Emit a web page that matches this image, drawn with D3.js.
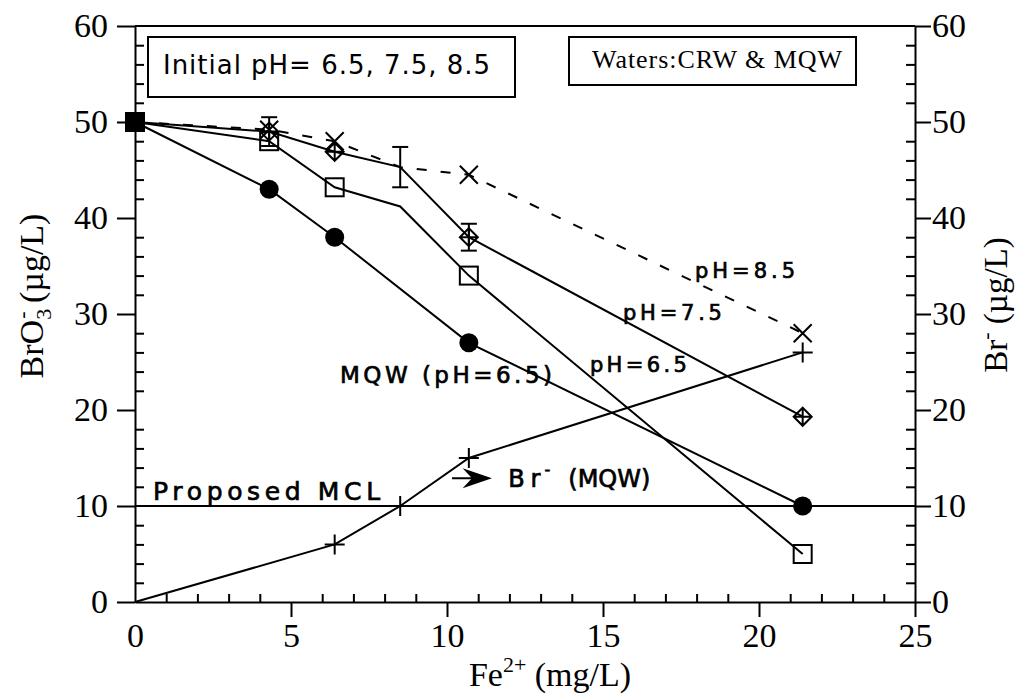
<!DOCTYPE html>
<html>
<head>
<meta charset="utf-8">
<script src="https://cdn.jsdelivr.net/npm/d3@7"></script>
<style>
body { margin: 0; background: #fff; }
svg { display: block; }
</style>
</head>
<body>
<script>
// Fe2+ doses (mg/L)
const fe = [0, 4.3, 6.4, 8.5, 10.7, 21.4];

// BrO3- (ug/L) per run, null = not measured
const mqw65 = [50, 43, 38, null, 27, 10];
const crw65 = [50, 48, 43.2, 41.2, 34, 5];
const crw75 = [50, 49, 46.9, 45.3, 38, 19.3];
const crw85 = [50, 49.2, 48, 45.3, 44.5, 28];
const err75 = [null, 1.5, null, 2.1, 1.4, null];

// Br- formed (ug/L), right axis
const brMqw = [0, null, 6, 10, 15, 26];

const mcl = 10;
const yTicks = [0, 10, 20, 30, 40, 50, 60];
const xTicks = [0, 5, 10, 15, 20, 25];

const width = 1019, height = 698;
const plot = {left: 135, right: 915, top: 26, bottom: 602};

const serif = '"Liberation Serif", "Times New Roman", serif';
const sans = '"DejaVu Sans", Verdana, sans-serif';

let svg = d3.select("body").append("svg")
    .attr("width", width)
    .attr("height", height);

let x = d3.scaleLinear().domain([0, 25]).range([plot.left, plot.right]);
let y = d3.scaleLinear().domain([0, 60]).range([plot.bottom, plot.top]);
let y2 = d3.scaleLinear().domain([0, 60]).range([plot.bottom, plot.top]);

function styleAxis(g) {
    g.attr("font-family", serif).attr("font-size", 34);
    g.selectAll("path, line").attr("stroke-width", 2);
}

////////// axes //////////
let minorY = d3.range(2, 60, 2).filter(v => v % 10 !== 0);
let minorX = d3.range(1, 25, 1).filter(v => v % 5 !== 0);

// left
svg.append("g")
    .attr("transform", `translate(${plot.left},0)`)
    .call(d3.axisLeft(y).tickValues(yTicks).tickSize(18).tickSizeOuter(0).tickPadding(9))
    .call(styleAxis);
svg.append("g")
    .attr("transform", `translate(${plot.left},0)`)
    .call(d3.axisLeft(y).tickValues(minorY).tickSize(-9).tickFormat(""))
    .call(g => g.select(".domain").remove())
    .call(styleAxis);

// right
svg.append("g")
    .attr("transform", `translate(${plot.right},0)`)
    .call(d3.axisRight(y2).tickValues(yTicks).tickSize(16).tickSizeOuter(0).tickPadding(1))
    .call(styleAxis);
svg.append("g")
    .attr("transform", `translate(${plot.right},0)`)
    .call(d3.axisRight(y2).tickValues(minorY).tickSize(-9).tickFormat(""))
    .call(g => g.select(".domain").remove())
    .call(styleAxis);

// bottom
svg.append("g")
    .attr("transform", `translate(0,${plot.bottom})`)
    .call(d3.axisBottom(x).tickValues(xTicks).tickSize(15).tickSizeOuter(0).tickPadding(6))
    .call(styleAxis)
    .call(g => g.selectAll(".tick").filter(d => d === 0).select("line").attr("y2", 0));
svg.append("g")
    .attr("transform", `translate(0,${plot.bottom})`)
    .call(d3.axisBottom(x).tickValues(minorX).tickSize(-8).tickFormat(""))
    .call(g => g.select(".domain").remove())
    .call(styleAxis);

// top frame
svg.append("line")
    .attr("x1", plot.left).attr("x2", plot.right)
    .attr("y1", plot.top).attr("y2", plot.top)
    .attr("stroke", "#000").attr("stroke-width", 2);

////////// axis titles //////////
let bt = svg.append("text")
    .attr("x", 550).attr("y", 686)
    .attr("text-anchor", "middle")
    .attr("font-family", serif).attr("font-size", 34);
bt.append("tspan").text("Fe");
bt.append("tspan").attr("font-size", 22).attr("dy", -14).text("2+");
bt.append("tspan").attr("dy", 14).text(" (mg/L)");

let lt = svg.append("text")
    .attr("transform", "translate(43,296) rotate(-90)")
    .attr("text-anchor", "middle")
    .attr("font-family", serif).attr("font-size", 34);
lt.append("tspan").text("BrO");
lt.append("tspan").attr("font-size", 22).attr("dy", 8).text("3");
lt.append("tspan").attr("font-size", 22).attr("dy", -22).attr("dx", -10).text("-");
lt.append("tspan").attr("dy", 14).text(" (\u00b5g/L)");

let rt = svg.append("text")
    .attr("transform", "translate(1007,305) rotate(-90)")
    .attr("text-anchor", "middle")
    .attr("font-family", serif).attr("font-size", 33);
rt.append("tspan").text("Br");
rt.append("tspan").attr("font-size", 22).attr("dy", -14).text("-");
rt.append("tspan").attr("dy", 14).text(" (\u00b5g/L)");

////////// MCL line //////////
svg.append("line")
    .attr("x1", x(0)).attr("x2", x(25))
    .attr("y1", y(mcl)).attr("y2", y(mcl))
    .attr("stroke", "#000").attr("stroke-width", 2);

////////// series lines //////////
function pts(vals, scale) {
    return fe.map((f, i) => ({x: f, v: vals[i], i: i}))
             .filter(d => d.v !== null)
             .map(d => ({px: x(d.x), py: scale(d.v), i: d.i, v: d.v}));
}
let line = d3.line().x(d => d.px).y(d => d.py);

svg.append("path").datum(pts(mqw65, y)).attr("d", line)
    .attr("fill", "none").attr("stroke", "#000").attr("stroke-width", 2);
svg.append("path").datum(pts(crw65, y)).attr("d", line)
    .attr("fill", "none").attr("stroke", "#000").attr("stroke-width", 2);
svg.append("path").datum(pts(crw75, y)).attr("d", line)
    .attr("fill", "none").attr("stroke", "#000").attr("stroke-width", 2);
svg.append("path").datum(pts(crw85, y)).attr("d", line)
    .attr("fill", "none").attr("stroke", "#000").attr("stroke-width", 2)
    .attr("stroke-dasharray", "10,14");
svg.append("path").datum(pts(brMqw, y2)).attr("d", line)
    .attr("fill", "none").attr("stroke", "#000").attr("stroke-width", 2);

////////// error bars (pH 7.5) //////////
let eb = svg.append("g").attr("stroke", "#000").attr("stroke-width", 2);
fe.forEach((f, i) => {
    if (err75[i] === null) return;
    let top = y(crw75[i] + err75[i]), bot = y(crw75[i] - err75[i]);
    eb.append("line").attr("x1", x(f)).attr("x2", x(f)).attr("y1", top).attr("y2", bot);
    eb.append("line").attr("x1", x(f) - 8).attr("x2", x(f) + 8).attr("y1", top).attr("y2", top);
    eb.append("line").attr("x1", x(f) - 8).attr("x2", x(f) + 8).attr("y1", bot).attr("y2", bot);
});

////////// markers //////////
// skip start point (shared filled square) and the unmarked knee at 8.5
const marked = d => d.i !== 0 && d.i !== 3;

svg.append("g").selectAll("circle")
    .data(pts(mqw65, y).filter(marked))
    .join("circle")
    .attr("cx", d => d.px).attr("cy", d => d.py).attr("r", 9.5)
    .attr("fill", "#000");

svg.append("g").selectAll("rect")
    .data(pts(crw65, y).filter(marked))
    .join("rect")
    .attr("x", d => d.px - 9).attr("y", d => d.py - 9)
    .attr("width", 18).attr("height", 18)
    .attr("fill", "none").attr("stroke", "#000").attr("stroke-width", 2);

svg.append("g").selectAll("path")
    .data(pts(crw75, y).filter(marked))
    .join("path")
    .attr("d", d => `M${d.px},${d.py - 9}L${d.px + 9},${d.py}L${d.px},${d.py + 9}L${d.px - 9},${d.py}Z` +
                    `M${d.px - 9},${d.py}H${d.px + 9}M${d.px},${d.py - 9}V${d.py + 9}`)
    .attr("fill", "none").attr("stroke", "#000").attr("stroke-width", 2);

svg.append("g").selectAll("path")
    .data(pts(crw85, y).filter(marked))
    .join("path")
    .attr("d", d => `M${d.px - 9},${d.py - 9}L${d.px + 9},${d.py + 9}M${d.px - 9},${d.py + 9}L${d.px + 9},${d.py - 9}`)
    .attr("fill", "none").attr("stroke", "#000").attr("stroke-width", 2);

svg.append("g").selectAll("path")
    .data(pts(brMqw, y2).filter(d => d.i !== 0))
    .join("path")
    .attr("d", d => `M${d.px - 10},${d.py}H${d.px + 10}M${d.px},${d.py - 10}V${d.py + 10}`)
    .attr("fill", "none").attr("stroke", "#000").attr("stroke-width", 2);

// shared start point
svg.append("rect")
    .attr("x", x(fe[0]) - 10).attr("y", y(crw65[0]) - 10)
    .attr("width", 20).attr("height", 20)
    .attr("fill", "#000");

////////// annotations //////////
function label(txt, xv, yv, size, len) {
    return svg.append("text")
        .attr("x", x(xv)).attr("y", y(yv))
        .attr("font-family", sans).attr("font-size", size)
        .attr("stroke", "#000").attr("stroke-width", 0.7)
        .attr("textLength", len).attr("lengthAdjust", "spacing")
        .text(txt);
}
label("Proposed  MCL", 0.58, 10.6, 25, 227);
label("MQW   (pH=6.5)", 6.57, 22.8, 23, 212);
label("pH=8.5", 17.95, 33.75, 21, 100);
label("pH=7.5", 15.64, 29.4, 21, 99);
label("pH=6.5", 14.58, 23.96, 21, 97);

// arrow to Br- curve
let ay = y2(12.9);
svg.append("line")
    .attr("x1", x(10.16)).attr("x2", x(11.2))
    .attr("y1", ay).attr("y2", ay)
    .attr("stroke", "#000").attr("stroke-width", 2);
svg.append("path")
    .attr("d", `M${x(11.44)},${ay}L${x(10.5)},${ay - 10}L${x(10.8)},${ay}L${x(10.5)},${ay + 10}Z`)
    .attr("fill", "#000");

let brl = svg.append("text")
    .attr("x", x(11.96)).attr("y", y2(12.0))
    .attr("font-family", sans).attr("font-size", 24)
    .attr("stroke", "#000").attr("stroke-width", 0.7);
brl.append("tspan").text("B");
brl.append("tspan").attr("dx", 6).text("r");
brl.append("tspan").attr("font-size", 16).attr("dy", -12).attr("dx", 4).text("-");
brl.append("tspan").attr("dy", 12).attr("dx", 18).text("(MQW)");

////////// info boxes //////////
svg.append("rect")
    .attr("x", 148).attr("y", 37).attr("width", 367).attr("height", 60)
    .attr("fill", "#fff").attr("stroke", "#000").attr("stroke-width", 2);
svg.append("text")
    .attr("x", 163).attr("y", 74)
    .attr("font-family", sans).attr("font-size", 26)
    .attr("textLength", 327).attr("lengthAdjust", "spacing")
    .text("Initial pH= 6.5, 7.5, 8.5");

svg.append("rect")
    .attr("x", 569).attr("y", 37).attr("width", 287).attr("height", 48)
    .attr("fill", "#fff").attr("stroke", "#000").attr("stroke-width", 2);
svg.append("text")
    .attr("x", 592).attr("y", 68)
    .attr("font-family", serif).attr("font-size", 26)
    .attr("textLength", 250).attr("lengthAdjust", "spacing")
    .text("Waters:CRW & MQW");
</script>
</body>
</html>
